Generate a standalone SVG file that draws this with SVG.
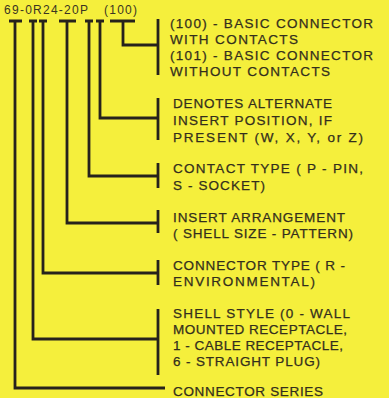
<svg xmlns="http://www.w3.org/2000/svg" width="389" height="398" viewBox="0 0 389 398">
<style>
.ln{fill:none;stroke:#26221c;stroke-width:2.8;stroke-linecap:butt;stroke-linejoin:miter}
.t{font-family:"Liberation Sans",Arial,sans-serif;font-size:13.5px;fill:#332e1c;stroke:#332e1c;stroke-width:0.25}
.code{font-family:"Liberation Sans",Arial,sans-serif;font-size:12px;fill:#3a3422}
</style>
<rect width="389" height="398" fill="#f5ef3c"/>
<g id="code">
<text class="code" x="4" y="14" textLength="84" lengthAdjust="spacing">69-0R24-20P</text>
<text class="code" x="104" y="14" textLength="33" lengthAdjust="spacing">(100)</text>
</g>
<g id="connectors">
<path class="ln" d="M15,21 V388 H165"/>
<path class="ln" d="M33,21 V339 H158"/>
<path class="ln" d="M43,21 V273 H158"/>
<path class="ln" d="M67,21 V223 H158"/>
<path class="ln" d="M89,21 V176 H158"/>
<path class="ln" d="M100,21 V118 H158"/>
<path class="ln" d="M123,21 V45 H158"/>
<path class="ln" d="M9,21 H22 M29,21 H37 M39,21 H47 M59,21 H76 M85,21 H93 M96,21 H104 M110,21 H135"/>
</g>
<g id="n-basic">
<path class="ln" d="M158,19 V75"/>
<text class="t" x="170" y="28" textLength="203" lengthAdjust="spacing">(100) - BASIC CONNECTOR</text>
<text class="t" x="170" y="43.5" textLength="128" lengthAdjust="spacing">WITH CONTACTS</text>
<text class="t" x="170" y="60" textLength="203" lengthAdjust="spacing">(101) - BASIC CONNECTOR</text>
<text class="t" x="170" y="75.5" textLength="160" lengthAdjust="spacing">WITHOUT CONTACTS</text>
</g>
<g id="n-alternate">
<path class="ln" d="M158,98 V140"/>
<text class="t" x="173" y="108" textLength="159" lengthAdjust="spacing">DENOTES ALTERNATE</text>
<text class="t" x="173" y="125" textLength="159" lengthAdjust="spacing">INSERT POSITION, IF</text>
<text class="t" x="173" y="141.5" textLength="190" lengthAdjust="spacing">PRESENT (W, X, Y, or Z)</text>
</g>
<g id="n-contact">
<path class="ln" d="M158,163 V188"/>
<text class="t" x="173" y="173" textLength="190" lengthAdjust="spacing">CONTACT TYPE ( P - PIN,</text>
<text class="t" x="173" y="190" textLength="92" lengthAdjust="spacing">S - SOCKET)</text>
</g>
<g id="n-insert">
<path class="ln" d="M158,210 V233"/>
<text class="t" x="173" y="222" textLength="172" lengthAdjust="spacing">INSERT ARRANGEMENT</text>
<text class="t" x="173" y="238" textLength="180" lengthAdjust="spacing">( SHELL SIZE - PATTERN)</text>
</g>
<g id="n-type">
<path class="ln" d="M158,260 V285"/>
<text class="t" x="173" y="270" textLength="172" lengthAdjust="spacing">CONNECTOR TYPE ( R -</text>
<text class="t" x="173" y="286" textLength="142" lengthAdjust="spacing">ENVIRONMENTAL)</text>
</g>
<g id="n-shell">
<path class="ln" d="M158,309 V375"/>
<text class="t" x="173" y="318" textLength="177" lengthAdjust="spacing">SHELL STYLE (0 - WALL</text>
<text class="t" x="173" y="334" textLength="174" lengthAdjust="spacing">MOUNTED RECEPTACLE,</text>
<text class="t" x="173" y="350" textLength="170" lengthAdjust="spacing">1 - CABLE RECEPTACLE,</text>
<text class="t" x="173" y="366" textLength="147" lengthAdjust="spacing">6 - STRAIGHT PLUG)</text>
</g>
<g id="n-series">
<text class="t" x="173" y="396" textLength="150" lengthAdjust="spacing">CONNECTOR SERIES</text>
</g>
</svg>
